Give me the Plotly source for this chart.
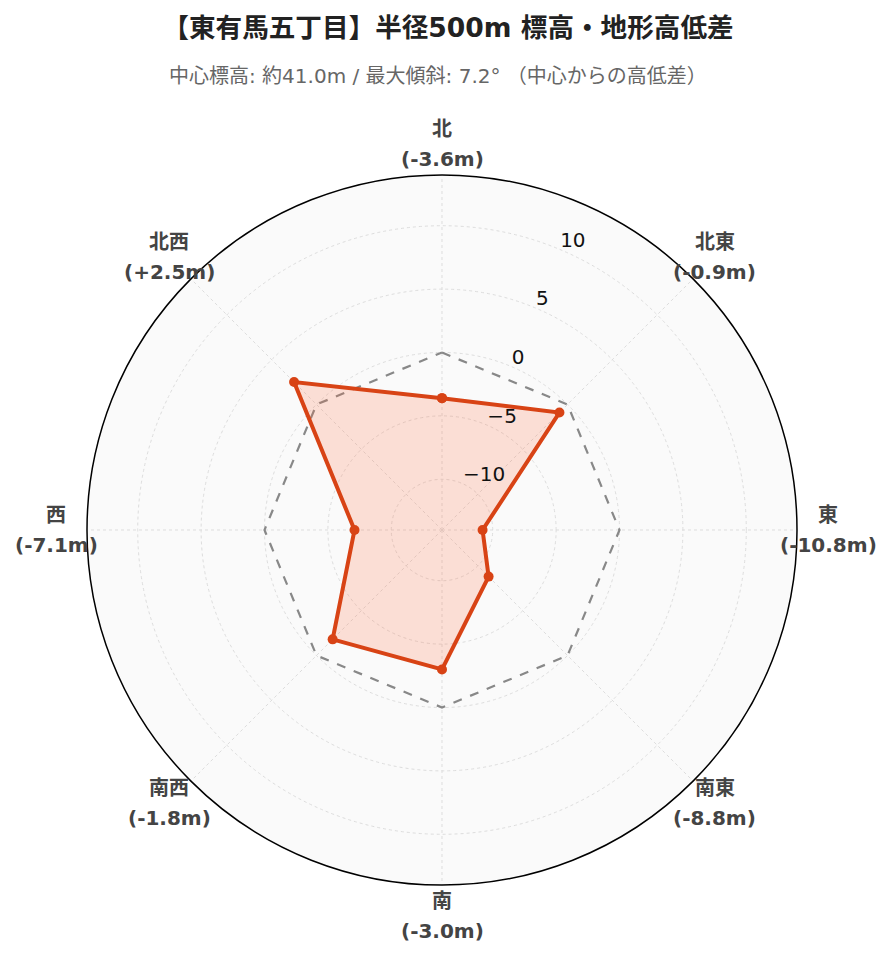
import math
import plotly.graph_objects as go

# 方位ごとの中心からの高低差 (m)
directions = ["北", "北東", "東", "南東", "南", "南西", "西", "北西"]
angles = [0, 45, 90, 135, 180, 225, 270, 315]
diffs = [-3.6, -0.9, -10.8, -8.8, -3.0, -1.8, -7.1, 2.5]

title = "【東有馬五丁目】半径500m 標高・地形高低差"
subtitle = "中心標高: 約41.0m / 最大傾斜: 7.2° （中心からの高低差）"

value_text = [f"({v:+.1f}m)" for v in diffs]

# 閉じた多角形にする
theta_closed = angles + [angles[0]]
r_closed = diffs + [diffs[0]]
zero_closed = [0] * len(theta_closed)

FONT = "DejaVu Sans, Noto Sans CJK JP, sans-serif"
W, H = 892, 962
L, R, T, B = 71, 103, 151, 85
PW, PH = W - L - R, H - T - B
SIZE = 710            # 円の直径(px)
DX, DY = 8, 16        # 目盛ラベル用サブプロットのずらし量(px)
CX, CY = L + DX + SIZE / 2, T + DY + SIZE / 2


def to_paper(px, py):
    return (px - L) / PW, (H - B - py) / PH


fig = go.Figure()

fig.add_trace(go.Scatterpolar(
    r=zero_closed,
    theta=theta_closed,
    mode="lines",
    line=dict(color="#888888", width=2.2, dash="dash"),
    hoverinfo="skip",
    showlegend=False,
))

fig.add_trace(go.Scatterpolar(
    r=r_closed,
    theta=theta_closed,
    mode="lines+markers",
    fill="toself",
    fillcolor="rgba(255, 112, 67, 0.2)",
    line=dict(color="#D84315", width=4),
    marker=dict(size=10, color="#D84315"),
    showlegend=False,
))

# 半径目盛ラベルだけを描く重ね用サブプロット
fig.add_trace(go.Scatterpolar(
    r=[0],
    theta=[0],
    mode="markers",
    marker=dict(opacity=0),
    hoverinfo="skip",
    showlegend=False,
    subplot="polar2",
))

annotations = [dict(
    text=subtitle,
    x=0.5, xref="paper",
    y=to_paper(0, 68)[1], yref="paper",
    yanchor="middle",
    showarrow=False,
    font=dict(size=20, color="#666"),
)]

# 方位ラベル: 円の外側に中央揃え、2行を30px間隔で
label_r = SIZE / 2 + 31
for a, d, v in zip(angles, directions, value_text):
    rad = math.radians(a)
    x, y = to_paper(CX + label_r * math.sin(rad), CY - label_r * math.cos(rad))
    for txt, shift in ((d, 15), (v, -15)):
        annotations.append(dict(
            text=f"<b>{txt}</b>",
            x=x, y=y, yshift=shift,
            xref="paper", yref="paper",
            xanchor="center", yanchor="middle",
            showarrow=False,
            font=dict(size=20, color="#444"),
        ))

grid = dict(gridcolor="#dddddd", griddash="dot", gridwidth=1)

fig.update_layout(
    width=W,
    height=H,
    paper_bgcolor="white",
    font=dict(family=FONT, color="#222"),
    title=dict(
        text=f"<b>{title}</b>",
        x=0.5 - 6 / W,
        xanchor="center",
        y=1 - 20 / H,
        yanchor="middle",
        font=dict(size=26.6, color="#222"),
    ),
    annotations=annotations,
    margin=dict(l=L, r=R, t=T, b=B),
    polar=dict(
        domain=dict(x=[DX / PW, 1], y=[0, SIZE / PH]),
        bgcolor="#fafafa",
        radialaxis=dict(
            range=[-14, 14],
            dtick=5,
            tick0=0,
            angle=67.5,
            showline=False,
            showticklabels=False,
            ticks="",
            **grid,
        ),
        angularaxis=dict(
            direction="clockwise",
            rotation=90,
            tickmode="array",
            tickvals=angles,
            showticklabels=False,
            showline=True,
            linecolor="black",
            linewidth=1.5,
            ticks="",
            **grid,
        ),
    ),
    polar2=dict(
        domain=dict(x=[0, SIZE / PW], y=[DY / PH, 1]),
        bgcolor="rgba(0,0,0,0)",
        radialaxis=dict(
            range=[-14, 14],
            dtick=5,
            tick0=0,
            angle=67.5,
            tickangle=67.5,
            showline=False,
            showgrid=False,
            ticks="",
            tickfont=dict(size=20, color="#111"),
        ),
        angularaxis=dict(
            direction="clockwise",
            rotation=90,
            showline=False,
            showgrid=False,
            showticklabels=False,
            ticks="",
        ),
    ),
)

fig.write_html("out.html")
